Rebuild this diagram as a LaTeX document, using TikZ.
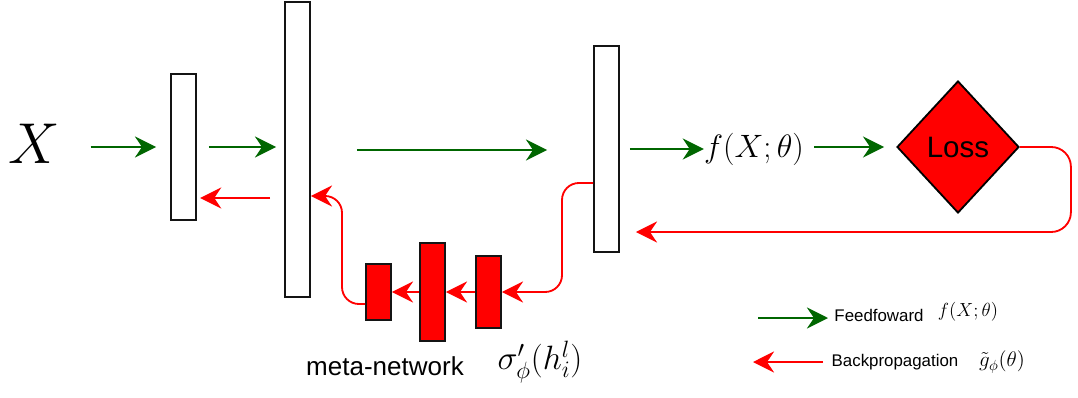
\RequirePackage{fix-cm}
\documentclass[tikz,border=0pt]{standalone}
\usepackage{amsmath, amssymb}
\usepackage{fontspec}
\setmainfont{Liberation Sans}
\usepackage{xcolor}
\usepackage{tikz}
\usetikzlibrary{arrows.meta, positioning, shapes.geometric, calc}
\definecolor{fwdgreen}{RGB}{0,102,0}
\definecolor{backred}{RGB}{255,0,0}
\definecolor{edgeblack}{RGB}{20,20,20}

\begin{document}
\begin{tikzpicture}[
  layer/.style={rectangle, draw=edgeblack, line width=1.4pt, fill=white, minimum width=6.25mm, inner sep=0pt},
  metalayer/.style={layer, fill=backred},
  fwd/.style={line width=1.4pt, draw=fwdgreen, -{Stealth[length=15pt, width=15pt, inset=5pt]}},
  back/.style={line width=1.3pt, draw=backred, -{Stealth[length=15pt, width=15pt, inset=5pt]}}
]
  \useasboundingbox (0,0) rectangle (26.95,-9.925);

  % main network
  \node[font=\fontsize{41}{46}\selectfont] (x) at (0.85,-3.6) {$X$};
  \node[layer, minimum height=36.5mm] (l1) at (4.5875,-3.675) {};
  \node[layer, minimum height=73.75mm] (l2) at (7.4375,-3.7375) {};
  \node[layer, minimum height=51.5mm] (l3) at (15.1625,-3.725) {};
  \node[inner sep=0pt, font=\fontsize{23}{27}\selectfont] (fx) at (18.85,-3.725) {$f(X;\theta)$};
  \node[diamond, draw=black, line width=1.3pt, fill=backred, inner sep=0pt,
    minimum width=30.5mm, minimum height=33mm, font=\fontsize{21}{24}\selectfont] (loss) at (23.95,-3.675) {Loss};

  % meta-network
  \node[metalayer, minimum height=14mm] (m1) at (9.4625,-7.3) {};
  \node[metalayer, minimum height=24.5mm] (m2) at (10.8125,-7.3) {};
  \node[metalayer, minimum height=18mm] (m3) at (12.2125,-7.3) {};
  \node[font=\fontsize{18.5}{22}\selectfont] (metalab) at (9.625,-9.15) {meta-network};
  \node[font=\fontsize{24}{28}\selectfont] (sigma) at (13.5,-9.05) {$\sigma'_{\phi}(h_i^l)$};

  % feedforward
  \draw[fwd, shorten <=0.65cm, shorten >=0.35cm] (x.east |- l1.west) -- (l1.west);
  \draw[fwd, shorten <=0.3cm, shorten >=0.2cm] (l1.east) -- (l1.east -| l2.west);
  \draw[fwd, shorten <=1.15cm, shorten >=1.15cm] (l2.east |- 0,-3.75) -- (l3.west |- 0,-3.75);
  \draw[fwd, shorten <=0.25cm] (l3.east |- fx.west) -- (fx.west);
  \draw[fwd, shorten <=0.25cm, shorten >=0.3cm] (fx.east |- loss.west) -- (loss.west);

  % backpropagation
  \draw[back, shorten <=0.35cm, shorten >=0.08cm] (l2.west |- 0,-4.95) -- (l1.east |- 0,-4.95);
  \draw[back, rounded corners=14pt, shorten >=0.4cm] (loss.east) -- ++(1.275,0) |- (l3.east |- 0,-5.8);
  \draw[back, rounded corners=12pt] (l3.west |- 0,-4.575) -- ++(-0.775,0) |- (m3.east);
  \draw[back] (m3.west) -- (m2.east);
  \draw[back] (m2.west) -- (m1.east);
  \draw[back, rounded corners=12pt] (m1.west |- 0,-7.6) -- ++(-0.575,0) |- (l2.east |- 0,-4.9);

  % legend
  \coordinate (ga) at (18.95,-7.95);
  \coordinate (gb) at (20.7,-7.95);
  \draw[fwd] (ga) -- (gb);
  \node[font=\fontsize{12}{14}\selectfont] (fwdlab) at (21.975,-7.875) {Feedfoward};
  \node[font=\fontsize{13.5}{16}\selectfont] (fwdmath) at (24.2,-7.8) {$f(X;\theta)$};
  \coordinate (ra) at (20.575,-9.05);
  \coordinate (rb) at (18.825,-9.05);
  \draw[back] (ra) -- (rb);
  \node[font=\fontsize{12}{14}\selectfont] (backlab) at (22.375,-9.05) {Backpropagation};
  \node[font=\fontsize{15}{18}\selectfont] (backmath) at (25.05,-9.05) {$\tilde{g}_{\phi}(\theta)$};
\end{tikzpicture}
\end{document}
